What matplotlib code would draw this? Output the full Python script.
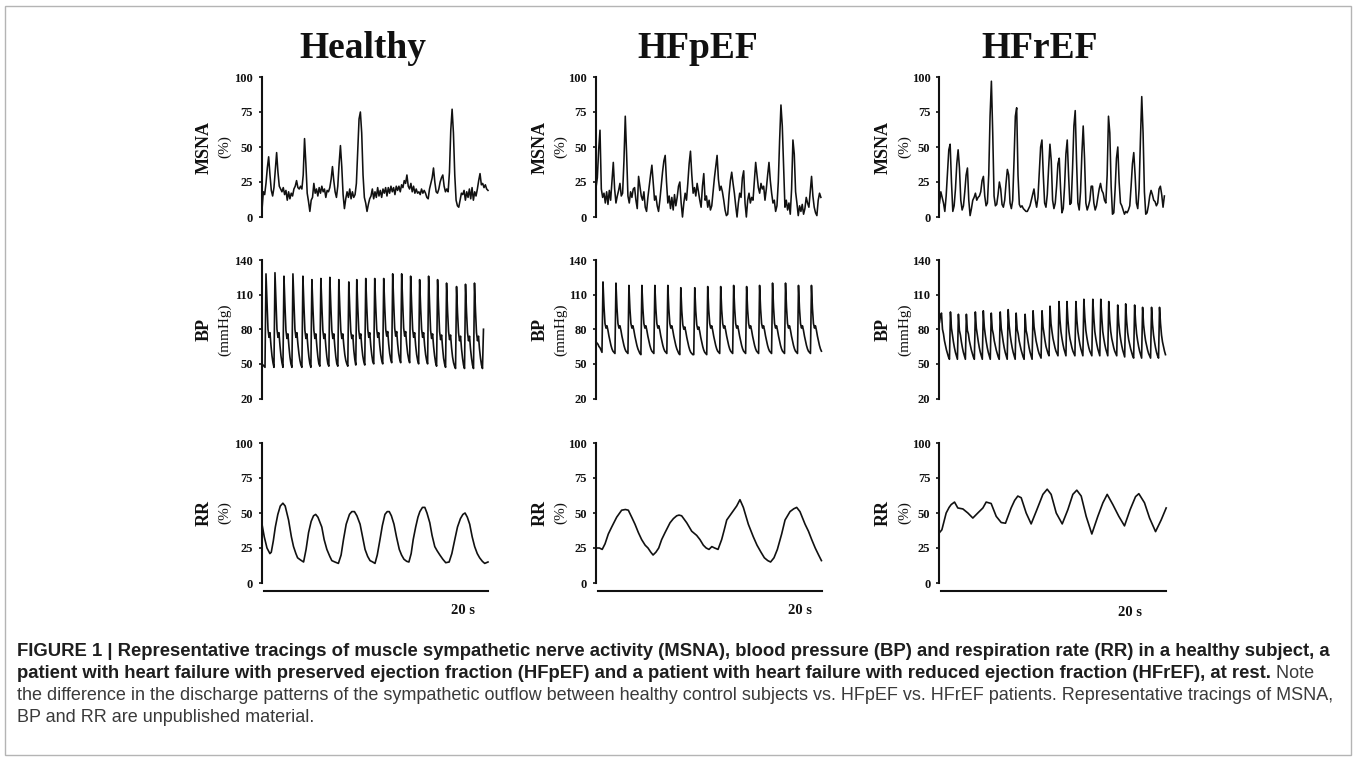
import numpy as np
import matplotlib
matplotlib.use("Agg")
import matplotlib.pyplot as plt
from matplotlib import font_manager
from matplotlib.patches import Rectangle

# ---------------- data ----------------
groups = ["Healthy", "HFpEF", "HFrEF"]

# MSNA (%), uniformly sampled traces
msna_healthy = [
    5, 18, 16, 24, 35, 43, 30, 19, 15, 21,
    33, 46, 32, 22, 20, 18, 21, 16, 19, 12,
    18, 13, 17, 15, 20, 22, 26, 21, 20, 22,
    20, 30, 56, 38, 17, 11, 4, 12, 14, 24,
    17, 20, 15, 21, 17, 22, 18, 20, 14, 19,
    18, 21, 27, 36, 26, 18, 14, 22, 38, 51,
    36, 16, 6, 13, 18, 14, 20, 13, 18, 14,
    16, 24, 48, 70, 75, 60, 30, 14, 10, 4,
    9, 13, 15, 20, 13, 18, 14, 21, 15, 19,
    14, 20, 17, 21, 15, 21, 17, 22, 18, 21,
    16, 22, 19, 22, 18, 23, 21, 26, 24, 30,
    22, 20, 24, 18, 22, 17, 20, 17, 18, 16,
    20, 17, 19, 17, 14, 13, 20, 24, 28, 35,
    25, 18, 17, 20, 25, 28, 30, 22, 18, 20,
    18, 32, 62, 77, 60, 30, 12, 8, 7, 12,
    17, 16, 19, 12, 18, 14, 20, 13, 21, 12,
    18, 15, 20, 26, 31, 23, 24, 21, 23, 20,
    19]
msna_hfpef = [
    21, 28, 48, 62, 20, 14, 17, 10, 18, 9,
    19, 12, 26, 39, 20, 10, 15, 19, 24, 15,
    17, 40, 72, 45, 15, 10, 18, 14, 20, 21,
    12, 6, 29, 22, 15, 12, 18, 7, 4, 14,
    22, 30, 37, 24, 12, 15, 8, 4, 12, 22,
    32, 40, 44, 25, 10, 15, 6, 14, 5, 16,
    8, 14, 22, 25, 10, 0, 10, 17, 12, 24,
    38, 47, 30, 17, 21, 15, 24, 18, 12, 7,
    22, 31, 12, 15, 7, 12, 5, 8, 18, 28,
    36, 44, 27, 19, 22, 18, 12, 5, 1, 2,
    16, 26, 32, 24, 17, 8, 0, 10, 17, 14,
    28, 33, 10, 0, 12, 17, 10, 14, 12, 25,
    39, 30, 21, 17, 24, 20, 22, 12, 20, 30,
    39, 26, 17, 10, 12, 4, 8, 25, 55, 80,
    65, 35, 7, 12, 5, 10, 2, 20, 55, 45,
    18, 10, 1, 8, 4, 9, 2, 6, 14, 10,
    7, 18, 29, 15, 7, 3, 1, 12, 17, 14]
msna_hfref = [
    10, 18, 14, 10, 4, 15, 32, 48, 52, 25,
    4, 8, 20, 38, 48, 35, 12, 5, 8, 18,
    30, 35, 12, 1, 6, 12, 14, 17, 12, 14,
    15, 18, 26, 29, 15, 8, 10, 30, 72, 97,
    60, 15, 8, 9, 16, 25, 20, 9, 7, 12,
    24, 34, 30, 10, 6, 12, 40, 72, 78, 30,
    9, 7, 8, 6, 5, 4, 4, 6, 8, 12,
    16, 20, 12, 7, 14, 32, 50, 55, 30, 10,
    7, 16, 35, 52, 40, 12, 6, 10, 22, 38,
    42, 20, 3, 6, 22, 45, 55, 30, 9, 10,
    35, 65, 76, 40, 10, 5, 18, 45, 65, 42,
    10, 5, 8, 12, 22, 22, 10, 5, 8, 14,
    20, 24, 19, 17, 12, 10, 30, 72, 60, 22,
    2, 3, 20, 42, 50, 25, 10, 8, 5, 2,
    4, 3, 5, 8, 22, 38, 46, 30, 10, 6,
    20, 55, 86, 60, 18, 2, 3, 8, 15, 19,
    16, 12, 11, 8, 10, 20, 22, 16, 7, 15]
msna_duration = [20.0, 19.9, 19.9]

# BP (mmHg), uniformly sampled traces
bp_healthy = [
    50, 49, 48, 47,
    128, 103, 80, 73, 77, 66, 57, 51, 47,
    129, 104, 80, 73, 77, 66, 57, 51, 47,
    126, 101, 79, 72, 76, 65, 56, 50, 47,
    128, 103, 80, 73, 77, 67, 59, 53, 49, 47,
    126, 101, 79, 72, 76, 65, 56, 50, 47,
    123, 99, 79, 72, 76, 65, 56, 50, 48,
    124, 100, 79, 72, 76, 65, 56, 50, 48,
    125, 100, 79, 72, 76, 65, 56, 50, 48,
    123, 99, 79, 72, 76, 66, 58, 53, 50, 48,
    121, 97, 78, 72, 75, 62, 54, 49,
    123, 99, 79, 72, 76, 65, 57, 52, 49,
    124, 100, 80, 73, 77, 66, 58, 52, 50,
    124, 100, 80, 73, 77, 66, 58, 53, 50,
    124, 100, 80, 74, 78, 67, 59, 54, 51,
    128, 103, 81, 74, 78, 67, 59, 54, 51,
    128, 103, 81, 74, 78, 67, 59, 54, 51,
    126, 101, 80, 73, 77, 66, 58, 53, 50,
    123, 99, 80, 73, 77, 66, 58, 53, 50,
    126, 101, 79, 72, 76, 65, 57, 51, 48,
    123, 99, 78, 71, 75, 64, 55, 50, 47,
    120, 96, 78, 71, 75, 64, 56, 51, 48, 46,
    117, 94, 77, 70, 74, 63, 55, 49, 46,
    119, 95, 77, 70, 74, 63, 55, 49, 46,
    120, 96, 77, 70, 74, 63, 55, 49, 46, 80]
bp_hfpef = [
    69, 68, 67, 65, 64, 62, 60,
    121, 100, 85, 81, 83, 79, 74, 70, 66, 63, 61, 60, 59,
    120, 99, 85, 81, 83, 79, 74, 70, 66, 63, 61, 60, 59,
    118, 98, 85, 81, 83, 79, 74, 70, 66, 63, 61, 59, 58,
    118, 98, 85, 81, 83, 79, 74, 70, 66, 63, 61, 60, 59,
    118, 98, 85, 81, 83, 79, 74, 70, 66, 63, 61, 60, 59,
    118, 98, 85, 81, 83, 79, 74, 70, 66, 63, 61, 59, 58,
    116, 96, 84, 80, 82, 78, 73, 69, 65, 62, 60, 59, 58, 58,
    116, 96, 84, 80, 82, 78, 73, 69, 65, 62, 60, 59, 58,
    117, 97, 85, 81, 83, 79, 74, 70, 66, 63, 61, 60, 59,
    117, 97, 85, 81, 83, 79, 74, 70, 66, 63, 61, 60, 59,
    118, 98, 85, 81, 83, 79, 74, 70, 66, 63, 61, 60, 59,
    117, 97, 85, 81, 83, 79, 74, 70, 66, 63, 61, 60, 59,
    118, 98, 85, 81, 83, 79, 74, 70, 66, 63, 61, 60, 59,
    120, 99, 85, 81, 83, 79, 74, 70, 66, 63, 61, 60, 59,
    120, 99, 85, 81, 83, 79, 74, 70, 66, 63, 61, 60, 59,
    118, 98, 85, 81, 83, 79, 74, 70, 66, 63, 61, 60, 59,
    118, 98, 85, 81, 83, 79, 74, 70, 66, 63, 61]
bp_hfref = [
    86, 92,
    94, 80, 76, 70, 66, 62, 59, 56, 54,
    95, 81, 75, 69, 64, 60, 57, 54,
    93, 79, 75, 69, 64, 60, 57, 54,
    93, 79, 76, 70, 66, 62, 59, 56, 54,
    95, 81, 75, 69, 64, 60, 57, 54,
    96, 82, 75, 69, 64, 60, 57, 54,
    94, 80, 76, 70, 66, 62, 59, 56, 54,
    95, 81, 75, 69, 64, 60, 57, 54,
    97, 83, 75, 69, 64, 60, 57, 54,
    94, 80, 76, 70, 66, 62, 59, 56, 54,
    93, 79, 75, 69, 64, 60, 57, 54,
    96, 82, 76, 70, 66, 62, 59, 57, 55,
    96, 82, 76, 70, 65, 62, 59, 57,
    100, 85, 78, 72, 68, 64, 61, 59, 57,
    104, 88, 78, 72, 67, 63, 60, 57,
    104, 88, 78, 72, 68, 64, 61, 59, 57,
    104, 88, 78, 72, 67, 63, 60, 57,
    106, 90, 79, 73, 68, 64, 61, 59, 57,
    106, 90, 78, 72, 67, 63, 60, 57,
    106, 90, 78, 72, 67, 63, 60, 57,
    104, 88, 78, 72, 68, 64, 61, 59, 57,
    101, 86, 77, 71, 66, 62, 59, 56,
    102, 87, 77, 71, 67, 63, 60, 57, 55,
    101, 86, 76, 70, 65, 61, 58, 55,
    99, 84, 76, 70, 66, 62, 59, 57, 55,
    99, 84, 75, 69, 64, 60, 57, 55,
    99, 85, 75, 69, 65, 61, 58]
bp_duration = [19.6, 19.95, 20.0]

# RR (%), vertices (time in s, value)
rr_healthy_t = [0.00, 0.20, 0.44, 0.70, 0.82, 1.00, 1.18, 1.40, 1.62, 1.85,
                2.05, 2.35, 2.60, 2.79, 3.00, 3.15, 3.40, 3.68, 3.90, 4.12,
                4.35, 4.56, 4.75, 4.95, 5.29, 5.50, 5.74, 6.00, 6.18, 6.45,
                6.76, 7.00, 7.21, 7.45, 7.74, 7.95, 8.18, 8.40, 8.68, 8.90,
                9.12, 9.35, 9.56, 9.80, 10.00, 10.20, 10.44, 10.65, 10.88, 11.08,
                11.26, 11.45, 11.68, 11.90, 12.15, 12.35, 12.56, 12.80, 13.00, 13.20,
                13.38, 13.60, 13.80, 13.97, 14.20, 14.41, 14.60, 14.85, 15.05, 15.29,
                15.50, 15.74, 16.00, 16.26, 16.56, 16.80, 17.06, 17.30, 17.56, 17.78,
                17.97, 18.17, 18.38, 18.60, 18.82, 19.05, 19.26, 19.50, 19.71, 20.00]
rr_healthy_v = [42, 33, 25, 21, 22, 30, 40, 49, 55, 57,
                55, 45, 33, 26, 21, 18, 16.5, 15, 24, 36,
                44, 48, 49, 47, 40, 31, 24, 19, 16, 15,
                14, 20, 31, 42, 49, 51, 51, 48, 42, 33,
                24, 19, 16, 15, 14, 20, 31, 41, 49, 51,
                51, 48, 42, 33, 24, 20, 17, 15.5, 15, 21,
                31, 40, 47, 51, 54, 54, 50, 43, 34, 26,
                23, 20, 17, 14.5, 15, 21, 31, 40, 46, 49,
                50, 47, 42, 33, 26, 21, 18, 15.5, 14, 15]
rr_hfpef_t = [0.00, 0.30, 0.55, 0.80, 1.09, 1.39, 1.83, 2.27, 2.60, 2.86,
              3.16, 3.45, 3.75, 4.04, 4.35, 4.60, 4.85, 5.05, 5.30, 5.55,
              5.81, 6.11, 6.55, 6.85, 7.14, 7.35, 7.58, 8.03, 8.47, 8.91,
              9.20, 9.50, 9.75, 10.00, 10.25, 10.50, 10.80, 11.12, 11.35, 11.57,
              12.01, 12.45, 12.74, 13.04, 13.48, 13.92, 14.25, 14.60, 14.90, 15.20,
              15.45, 15.75, 16.05, 16.43, 16.73, 17.17, 17.50, 17.76, 18.05, 18.50,
              18.80, 19.09, 19.40, 19.70, 19.95]
rr_hfpef_v = [25, 25, 24, 28, 35, 40, 47, 52, 52.5, 52,
              47, 42, 36, 31, 27, 25, 22, 20, 22, 25,
              31, 36, 43, 46, 48, 48.5, 48, 43, 37, 34,
              31, 27, 25, 24, 26, 25, 24, 31, 38, 45,
              50, 55, 59.5, 54, 42, 33, 27, 22, 18, 16,
              15, 18, 24, 35, 45, 51, 53, 54, 51, 42,
              37, 31, 25, 20, 16]
rr_hfref_t = [0.00, 0.21, 0.59, 0.85, 1.03, 1.33, 1.62, 2.07, 2.51, 2.95,
              3.39, 3.84, 4.13, 4.57, 5.02, 5.46, 5.84, 6.34, 6.65, 6.93,
              7.23, 7.67, 8.11, 8.56, 9.15, 9.53, 9.88, 10.33, 10.86, 11.36,
              11.80, 12.15, 12.54, 12.98, 13.48, 14.01, 14.46, 14.84, 15.34, 15.87,
              16.37, 16.87, 17.35, 17.64, 18.14, 18.59, 19.12, 19.62, 20.06]
rr_hfref_v = [36, 38, 50, 54, 56, 57.8, 53.6, 52.9, 50, 46.4,
              50, 53.6, 57.8, 56.8, 47.6, 43.2, 42.7, 53.6, 59, 62.1,
              60.9, 50, 42.2, 51.2, 63.3, 67, 63.3, 50, 42.2, 52.4,
              63.3, 66.3, 62.1, 47.6, 35, 47.6, 57.3, 63.3, 56, 47.6,
              40.8, 52.4, 61.7, 63.8, 57.3, 46.4, 36.7, 45.1, 53.6]

msna_ticks = [0, 25, 50, 75, 100]
bp_ticks = [20, 50, 80, 110, 140]
rr_ticks = [0, 25, 50, 75, 100]
time_label = "20 s"

caption_lines = [
    ("FIGURE 1 | Representative tracings of muscle sympathetic nerve activity (MSNA), "
     "blood pressure (BP) and respiration rate (RR) in a healthy subject, a", ""),
    ("patient with heart failure with preserved ejection fraction (HFpEF) and a patient "
     "with heart failure with reduced ejection fraction (HFrEF), at rest.", " Note"),
    ("", "the difference in the discharge patterns of the sympathetic outflow between healthy "
         "control subjects vs. HFpEF vs. HFrEF patients. Representative tracings of MSNA,"),
    ("", "BP and RR are unpublished material."),
]

# ---------------- figure ----------------
W, H = 1357, 760
fig = plt.figure(figsize=(W / 100, H / 100), dpi=100)
fig.patch.set_facecolor("white")
SERIF = ["Liberation Serif", "DejaVu Serif"]
INK = "#111111"

fig.add_artist(Rectangle((5 / W, 5 / H), 1346 / W, 749 / H, transform=fig.transFigure,
                         fill=False, edgecolor="#b4b4b4", linewidth=1.0))

col_x = [262, 596, 939.5]
col_w = 226
rows = {"MSNA": (77, 217), "BP": (260, 398.5), "RR": (443, 583)}
name_off = [(-58, -37), (-56, -35), (-56, -35)]
title_x = [363, 698, 1040]
tlabel_x = [463, 800, 1130]
tlabel_y = [611, 611, 613]


def make_ax(x0, ytop, ybot):
    return fig.add_axes([x0 / W, 1 - ybot / H, col_w / W, (ybot - ytop) / H])


def style(ax, ylim, ticks, name, unit, offs, bottom=False):
    ax.set_xlim(0, 20)
    ax.set_ylim(*ylim)
    ax.set_facecolor("none")
    for s in ["top", "right"]:
        ax.spines[s].set_visible(False)
    ax.spines["left"].set_linewidth(1.5)
    ax.spines["left"].set_color(INK)
    if bottom:
        ax.spines["bottom"].set_position(("outward", 5.8))
        ax.spines["bottom"].set_bounds(0.15, 20.0)
        ax.spines["bottom"].set_linewidth(1.5)
        ax.spines["bottom"].set_color(INK)
    else:
        ax.spines["bottom"].set_visible(False)
    ax.set_xticks([])
    ax.set_yticks(ticks)
    ax.set_yticklabels([str(t) for t in ticks], fontfamily=SERIF, fontweight="bold",
                       fontsize=9, color=INK)
    ax.tick_params(axis="y", length=2.5, width=1.2, pad=4, direction="out", colors=INK)
    ax.annotate(name, xy=(0, 0.5), xycoords="axes fraction", xytext=(offs[0], 0),
                textcoords="offset pixels", rotation=90, ha="center", va="center",
                fontfamily=SERIF, fontweight="bold", fontsize=13, color=INK)
    ax.annotate(unit, xy=(0, 0.5), xycoords="axes fraction", xytext=(offs[1], 0),
                textcoords="offset pixels", rotation=90, ha="center", va="center",
                fontfamily=SERIF, fontsize=11, color=INK)


msna_all = [msna_healthy, msna_hfpef, msna_hfref]
bp_all = [bp_healthy, bp_hfpef, bp_hfref]
rr_all = [(rr_healthy_t, rr_healthy_v), (rr_hfpef_t, rr_hfpef_v), (rr_hfref_t, rr_hfref_v)]

for c in range(3):
    x0 = col_x[c]
    # MSNA
    ax = make_ax(x0, *rows["MSNA"])
    v = np.array(msna_all[c], dtype=float)
    t = np.linspace(0, msna_duration[c], len(v))
    ax.plot(t, v, color=INK, lw=1.15, clip_on=False)
    style(ax, (0, 100), msna_ticks, "MSNA", "(%)", name_off[c])
    # BP
    ax = make_ax(x0, *rows["BP"])
    v = np.array(bp_all[c], dtype=float)
    t = np.linspace(0, bp_duration[c], len(v))
    ax.plot(t, v, color=INK, lw=1.2, clip_on=False)
    style(ax, (20, 140), bp_ticks, "BP", "(mmHg)", name_off[c])
    # RR
    ax = make_ax(x0, *rows["RR"])
    rt, rv = rr_all[c]
    n = min(len(rt), len(rv))
    ax.plot(rt[:n], rv[:n], color=INK, lw=1.2, clip_on=False)
    style(ax, (0, 100), rr_ticks, "RR", "(%)", name_off[c], bottom=True)
    fig.text(tlabel_x[c] / W, 1 - tlabel_y[c] / H, time_label, ha="center", va="center",
             fontfamily=SERIF, fontweight="bold", fontsize=10.5, color=INK)
    # title
    fig.text(title_x[c] / W, 1 - 48 / H, groups[c], ha="center", va="center",
             fontfamily=SERIF, fontweight="bold", fontsize=27, color=INK)

# ---------------- caption (Helvetica-like sans) ----------------
fp_bold = font_manager.FontProperties(family=["Liberation Sans", "DejaVu Sans"], weight="bold")
fp_norm = font_manager.FontProperties(family=["Liberation Sans", "DejaVu Sans"])

renderer = fig.canvas.get_renderer()


def fit_size(text, fp, target):
    p = fig.text(0, 0, text, fontproperties=fp, fontsize=14)
    w = p.get_window_extent(renderer).width
    p.remove()
    return 14 * target / w


fs_bold = fit_size(caption_lines[0][0], fp_bold, 1323.0)
fs_norm = fit_size(caption_lines[2][1], fp_norm, 1323.0)

base_y = [656, 678, 700, 722]
for (bold_txt, norm_txt), by in zip(caption_lines, base_y):
    x = 17
    if bold_txt:
        tb = fig.text(x / W, 1 - by / H, bold_txt, fontproperties=fp_bold, fontsize=fs_bold,
                      color="#1e1e1e", va="baseline")
        x = tb.get_window_extent(renderer).x1
    if norm_txt:
        fig.text(x / W, 1 - by / H, norm_txt, fontproperties=fp_norm, fontsize=fs_norm,
                 color="#3a3a3a", va="baseline")

fig.savefig("out.png", dpi=100, facecolor="white")
